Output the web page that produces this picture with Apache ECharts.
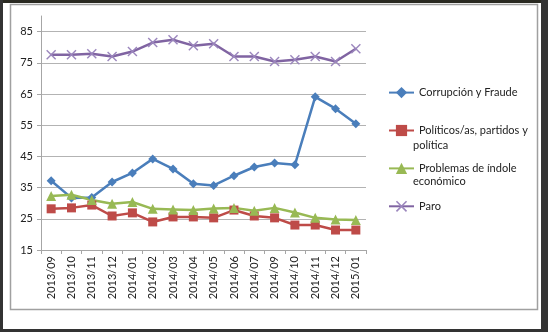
<!DOCTYPE html>
<html>
<head>
<meta charset="utf-8">
<script src="https://cdn.jsdelivr.net/npm/echarts@6/dist/echarts.min.js"></script>
<style>
  html, body { margin: 0; padding: 0; background: #fff; }
  #chart { width: 548px; height: 332px; }
</style>
</head>
<body>
<div id="chart"></div>
<script>
// datos
const categories = ['2013/09', '2013/10', '2013/11', '2013/12', '2014/01', '2014/02', '2014/03', '2014/04',
  '2014/05', '2014/06', '2014/07', '2014/09', '2014/10', '2014/11', '2014/12', '2015/01']
const corrupcion = [37.2, 31.7, 31.8, 36.8, 39.7, 44.2, 41.0, 36.2, 35.7, 38.8, 41.6, 42.9, 42.3, 64.1, 60.3, 55.5]
const politicos = [28.2, 28.5, 29.4, 25.9, 26.9, 24.0, 25.6, 25.6, 25.3, 27.8, 25.9, 25.3, 23.0, 23.0, 21.4, 21.4]
const economia = [32.3, 32.7, 31.0, 29.8, 30.4, 28.2, 28.0, 27.8, 28.3, 28.5, 27.6, 28.5, 27.0, 25.3, 24.8, 24.6]
const paro = [77.6, 77.6, 77.9, 77.0, 78.6, 81.5, 82.4, 80.5, 81.1, 77.0, 77.0, 75.4, 76.0, 77.0, 75.4, 79.5]
const yTicks = { min: 15, max: 90, step: 10 }

const FONT = 'Lato'
const xMark = 'path://M0,1L1,0L5,4L9,0L10,1L6,5L10,9L9,10L5,6L1,10L0,9L4,5Z'

const chart = echarts.init(document.getElementById('chart'))

const mkSeries = (name, data, color, symbol, size, markerColor) => ({
  name,
  type: 'line',
  data,
  symbol,
  symbolSize: size,
  lineStyle: { color, width: 2.5 },
  itemStyle: { color: markerColor || color },
  emphasis: { disabled: true },
})

const option = {
  animation: false,
  textStyle: { fontFamily: FONT },
  grid: { left: 41, right: 182, top: 16, bottom: 82 },
  xAxis: {
    type: 'category',
    data: categories,
    boundaryGap: true,
    axisLine: { lineStyle: { color: '#a6a6a6', width: 1 } },
    axisTick: { show: true, length: 4, interval: 0, lineStyle: { color: '#a6a6a6' } },
    axisLabel: { rotate: 90, interval: 0, fontSize: 11, color: '#222', fontFamily: FONT, margin: 6 },
  },
  yAxis: {
    type: 'value',
    min: yTicks.min,
    max: yTicks.max,
    interval: yTicks.step,
    axisLine: { show: true, lineStyle: { color: '#a6a6a6' } },
    axisTick: { show: true, length: 4, lineStyle: { color: '#a6a6a6' } },
    axisLabel: { fontSize: 11, color: '#222', fontFamily: FONT, margin: 8, showMaxLabel: false },
    splitLine: { showMaxLine: false, lineStyle: { color: '#b3b3b3', width: 1 } },
  },
  legend: {
    orient: 'vertical',
    left: 383,
    top: 82,
    itemWidth: 25,
    itemHeight: 14,
    itemGap: 26.7,
    textStyle: { fontSize: 11, color: '#222', fontFamily: FONT },
    data: ['Corrupción y Fraude', 'Políticos/as, partidos y', 'Problemas de índole', 'Paro'],
  },
  graphic: [
    // marco exterior
    { type: 'rect', shape: { x: 0, y: 0, width: 548, height: 3 }, style: { fill: '#2a2a22' }, silent: true },
    { type: 'rect', shape: { x: 0, y: 0, width: 3, height: 332 }, style: { fill: '#333' }, silent: true },
    { type: 'rect', shape: { x: 541, y: 0, width: 7, height: 332 }, style: { fill: '#333' }, silent: true },
    { type: 'rect', shape: { x: 0, y: 329, width: 548, height: 3 }, style: { fill: '#333' }, silent: true },
    // caja del gráfico
    { type: 'rect', shape: { x: 10.5, y: 4.5, width: 527, height: 305 }, style: { fill: 'none', stroke: '#a0a0a0', lineWidth: 1.5 }, silent: true },
    { type: 'text', left: 413, top: 140, style: { text: 'política', fontSize: 11, fill: '#222', fontFamily: FONT }, silent: true },
    { type: 'text', left: 413, top: 176, style: { text: 'económico', fontSize: 11, fill: '#222', fontFamily: FONT }, silent: true },
  ],
  series: [
    mkSeries('Corrupción y Fraude', corrupcion, '#4a7ebb', 'diamond', 9),
    mkSeries('Políticos/as, partidos y', politicos, '#be4b48', 'rect', 9),
    mkSeries('Problemas de índole', economia, '#98b954', 'triangle', 10),
    mkSeries('Paro', paro, '#8064a2', xMark, 10, '#9b86bd'),
  ],
}

chart.setOption(option)
</script>
</body>
</html>
